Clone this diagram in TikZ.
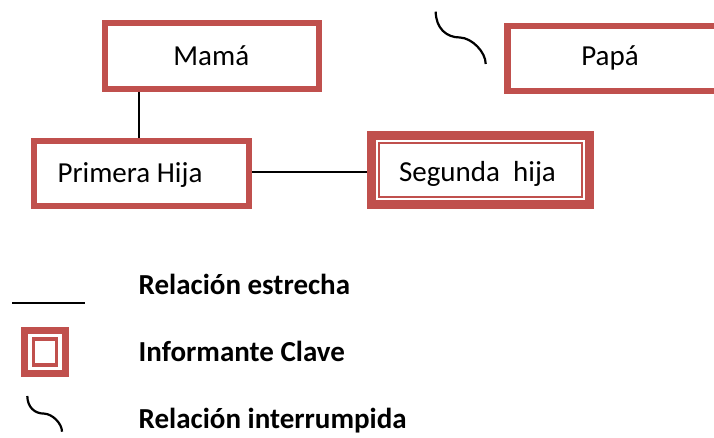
\documentclass[tikz,border=0pt]{standalone}
\usepackage{fontspec}
\setmainfont{Carlito}
\definecolor{boxred}{HTML}{C0504D}
\begin{document}
\begin{tikzpicture}[x=1pt,y=-1pt,
  fambox/.style={draw=boxred, line width=6pt, fill=white, inner sep=0pt},
  keybox/.style={draw=boxred, line width=9pt, fill=white, inner sep=0pt},
  keyinner/.style={draw=boxred, line width=2pt, inner sep=0pt},
  lbl/.style={inner sep=0pt, anchor=base, font=\fontsize{29}{34}\selectfont},
  leg/.style={inner sep=0pt, anchor=base west, font=\fontsize{29}{34}\selectfont\bfseries},
  rel/.style={draw=black, line width=2pt},
  cut/.style={draw=black, line width=2.2pt}]
\fill[white] (0,0) rectangle (714,437);
\useasboundingbox (0,0) rectangle (714,437);

% family boxes
\node[fambox, minimum width=214.3pt, minimum height=65.7pt] (mama) at (211.9,55.8) {};
\node[fambox, line width=6.6pt, minimum width=212.7pt, minimum height=65pt] (papa) at (613.7,58.5) {};
\node[fambox, minimum width=215.3pt, minimum height=65pt] (primera) at (141.7,173.8) {};
\node[keybox, minimum width=218.1pt, minimum height=69.3pt] (segunda) at (480.2,170.2) {};
\node[keyinner, minimum width=203.1pt, minimum height=54.3pt] (segundain) at (segunda.center) {};

% texts
\node[lbl] (tmama) at (211.3,65) {Mamá};
\node[lbl] (tpapa) at (610,65) {Papá};
\node[lbl] (tprimera) at (130,182.3) {Primera Hija};
\node[lbl] (tsegunda) at (477.5,181.7) {Segunda\ \ hija};

% connectors
\coordinate (vx) at (139,0);
\coordinate (hy) at (0,171.7);
\draw[rel] (mama.south -| vx) -- (primera.north -| vx);
\draw[rel] (primera.east |- hy) -- (segunda.west |- hy);

% broken relation mark near Papa
\coordinate (sqa) at (435.7,11.7);
\coordinate (sqm) at (460,37.5);
\coordinate (sqb) at (485.7,64);
\draw[cut] (sqa) .. controls (436,28) and (446,37.5) .. (sqm)
  .. controls (472,38) and (485.7,52) .. (sqb);

% legend
\coordinate (la) at (12,303);
\coordinate (lb) at (85,303);
\draw[rel] (la) -- (lb);
\node[leg] (lg1) at (138.5,294.3) {Relación estrecha};

\fill[boxred] (21,327) rectangle (69,377);
\fill[white] (28,334) rectangle (62,370);
\draw[boxred, line width=3.2pt] (33.3,339) rectangle (56.3,365);
\node[leg] (lg2) at (138.5,361) {Informante Clave};

\coordinate (lsa) at (27.3,396);
\coordinate (lsm) at (44.2,413.6);
\coordinate (lsb) at (62,431.7);
\draw[cut] (lsa) .. controls (27.5,407.1) and (34.4,413.6) .. (lsm)
  .. controls (52.5,414) and (62,423.5) .. (lsb);
\node[leg] (lg3) at (138.5,428.3) {Relación interrumpida};
\end{tikzpicture}
\end{document}
